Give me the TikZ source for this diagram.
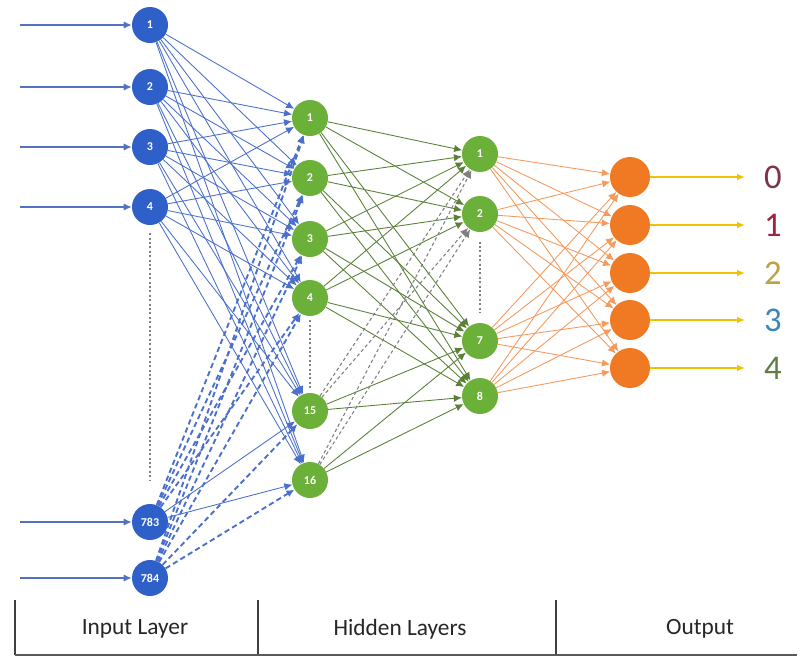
\documentclass[tikz,border=0pt]{standalone}
\usepackage{fontspec}
\setmainfont{Carlito}
\usetikzlibrary{arrows.meta}
\definecolor{inblue}{HTML}{2F5FC8}
\definecolor{lnblue}{HTML}{4A70CC}
\definecolor{hgreen}{HTML}{6BB038}
\definecolor{lngreen}{HTML}{5A8038}
\definecolor{oorange}{HTML}{F07A24}
\definecolor{lnorange}{HTML}{F49A5C}
\definecolor{yarr}{HTML}{F2C200}
\definecolor{cz}{HTML}{7E3442}
\definecolor{co}{HTML}{A0243E}
\definecolor{ct}{HTML}{B9A444}
\definecolor{cth}{HTML}{3D86BC}
\definecolor{cf}{HTML}{5E7E46}
\begin{document}
\begin{tikzpicture}[x=0.75pt,y=-0.75pt,
  inode/.style={circle,fill=inblue,minimum size=27pt,inner sep=0pt,text=white,font=\bfseries\fontsize{9}{9}\selectfont},
  hnode/.style={circle,fill=hgreen,minimum size=27pt,inner sep=0pt,text=white,font=\bfseries\fontsize{9}{9}\selectfont},
  onode/.style={circle,fill=oorange,minimum size=30pt,inner sep=0pt},
  tip/.style={-{Latex[length=6pt,width=5.5pt]}},
  inarrow/.style={tip,draw=lnblue!85!gray,line width=1pt},
  bconn/.style={tip,draw=lnblue,line width=0.65pt},
  bdash/.style={tip,draw=lnblue,line width=1.4pt,dash pattern=on 4pt off 2.5pt},
  gconn/.style={tip,draw=lngreen,line width=0.65pt},
  gdash/.style={tip,draw=gray,line width=0.8pt,dash pattern=on 2.5pt off 2pt},
  oconn/.style={tip,draw=lnorange,line width=0.65pt},
  yarrow/.style={-{Latex[length=6pt,width=5pt]},draw=yarr,line width=1pt},
  vdots/.style={draw=gray,line width=0.8pt,dash pattern=on 1.5pt off 1.8pt},
  outlabel/.style={anchor=center,font=\fontsize{26}{26}\selectfont},
  tablabel/.style={font=\fontsize{17.5}{18}\selectfont,text=black!85}
]
\useasboundingbox (0,0) rectangle (802,661);
\fill[white] (0,0) rectangle (802,661);
% nodes
\foreach \n/\y in {1/25,2/87,3/147,4/207,783/522,784/578}{
  \node[inode] (i\n) at (150,\y) {\n};
  \coordinate (s\n) at (20,\y);
}
\foreach \n/\y in {1/118,2/178,3/239,4/298,15/411,16/480}
  \node[hnode] (a\n) at (310,\y) {\n};
\foreach \n/\y in {1/154,2/214,7/341,8/396}
  \node[hnode] (b\n) at (480,\y) {\n};
\foreach \n/\y/\c in {0/177/cz,1/225/co,2/273/ct,3/320/cth,4/368/cf}{
  \node[onode] (o\n) at (630,\y) {};
  \coordinate (e\n) at (745,\y);
  \node[outlabel,text=\c] (l\n) at (773,\y) {\n};
}
% input arrows
\foreach \n in {1,2,3,4,783,784}
  \draw[inarrow] (s\n) -- (i\n);
% input -> hidden 1
\foreach \s in {1,2,3,4}
  \foreach \t in {1,2,3,4,15,16}
    \draw[bconn] (i\s) -- (a\t);
\foreach \t in {1,2,3,4}
  \draw[bdash] (i783) -- (a\t);
\foreach \t in {15,16}
  \draw[bconn] (i783) -- (a\t);
\foreach \t in {1,2,3,4,15,16}
  \draw[bdash] (i784) -- (a\t);
% hidden 1 -> hidden 2
\foreach \s in {1,2,3,4}
  \foreach \t in {1,2,7,8}
    \draw[gconn] (a\s) -- (b\t);
\foreach \s in {15,16}{
  \foreach \t in {7,8}
    \draw[gconn] (a\s) -- (b\t);
  \foreach \t in {1,2}
    \draw[gdash] (a\s) -- (b\t);
}
% hidden 2 -> output
\foreach \s in {1,2,7,8}
  \foreach \t in {0,1,2,3,4}
    \draw[oconn] (b\s) -- (o\t);
% output arrows
\foreach \n in {0,1,2,3,4}
  \draw[yarrow] (o\n) -- (e\n);
% vertical dots
\draw[vdots,shorten <=6pt,shorten >=17pt] (i4) -- (i783);
\draw[vdots,shorten <=3pt,shorten >=3pt] (a4) -- (a15);
\draw[vdots,shorten <=7pt,shorten >=7pt] (b2) -- (b7);
% table
\coordinate (t1a) at (15,600); \coordinate (t1b) at (15,655);
\coordinate (t2a) at (258,600); \coordinate (t2b) at (258,655);
\coordinate (t3a) at (556,600); \coordinate (t3b) at (556,655);
\coordinate (t4) at (797,655);
\draw[black!75,line width=0.9pt] (t1a) -- (t1b);
\draw[black!75,line width=0.9pt] (t2a) -- (t2b);
\draw[black!75,line width=0.9pt] (t3a) -- (t3b);
\draw[black!65,line width=1.4pt] (t1b) -- (t4);
\node[tablabel] (tl1) at (135,629) {Input Layer};
\node[tablabel] (tl2) at (400,629) {Hidden Layers};
\node[tablabel] (tl3) at (700,629) {Output};
\end{tikzpicture}
\end{document}
